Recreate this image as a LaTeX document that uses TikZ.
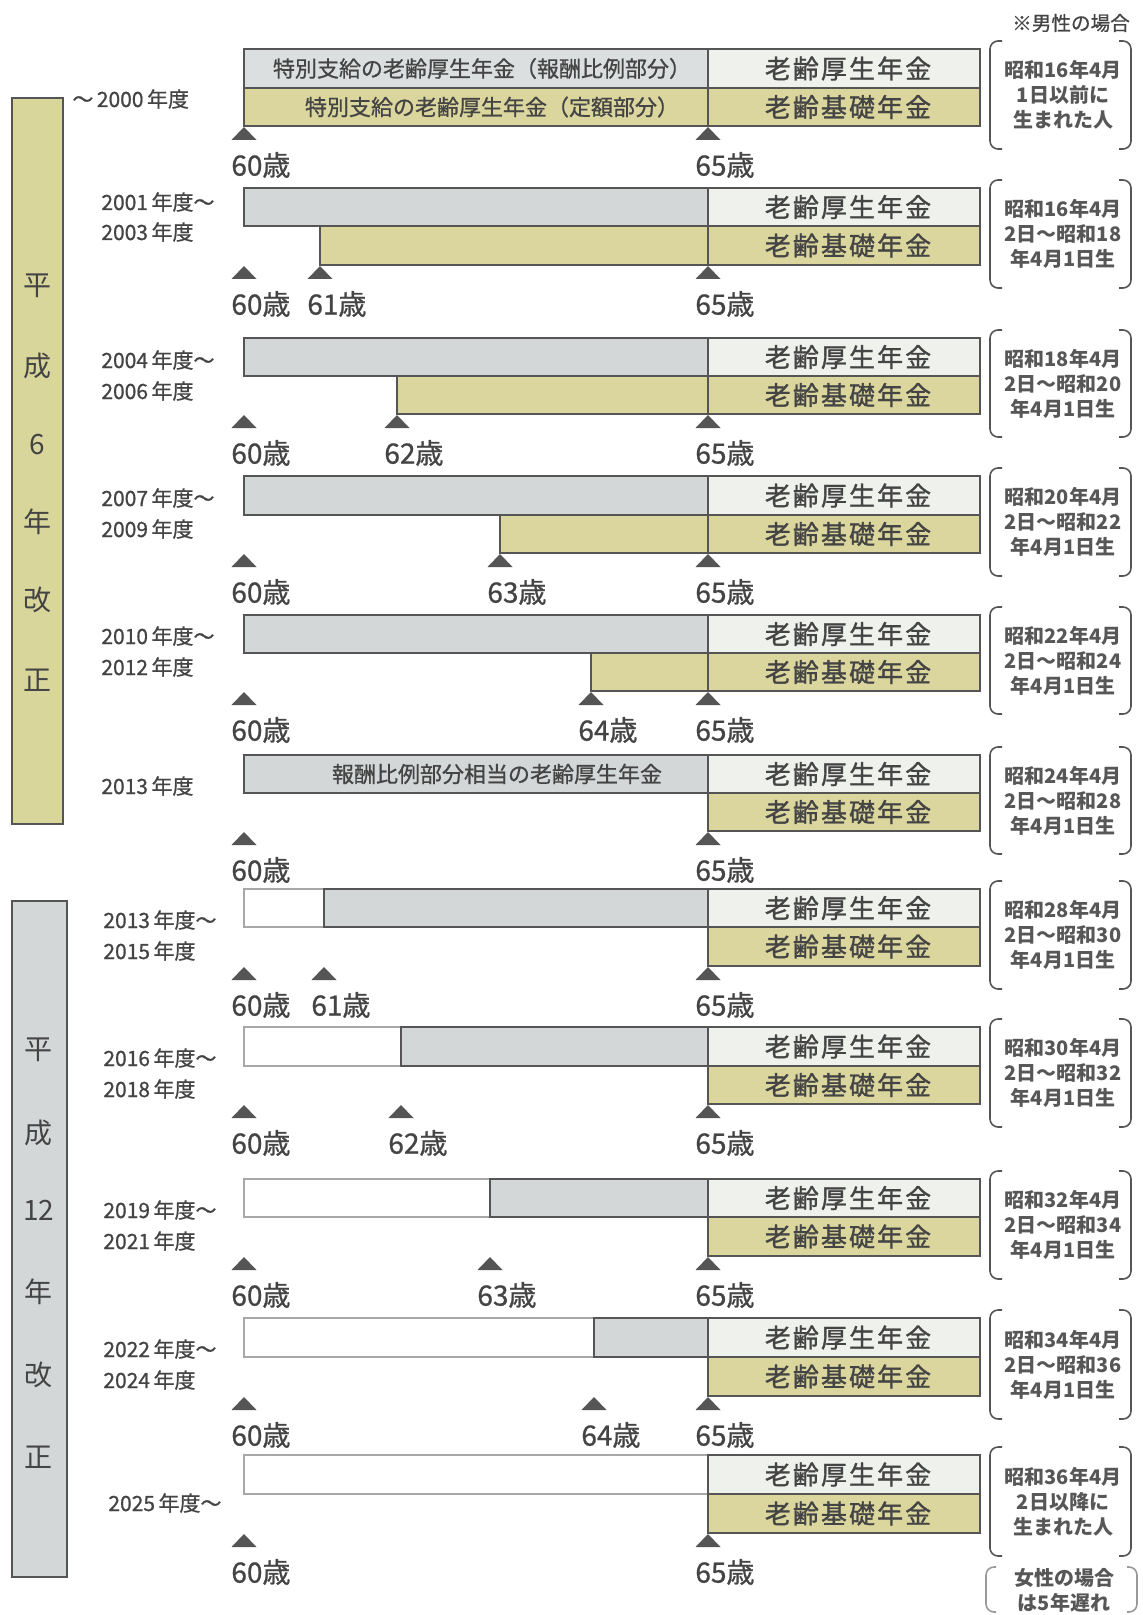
\documentclass[tikz,border=0pt]{standalone}
\usepackage{fontspec}
\setmainfont{Noto Sans CJK JP}
\newfontfamily\barfont[LetterSpace=8,FakeBold=1.2]{Noto Sans CJK JP}
\newfontfamily\medfont[FakeBold=0.8]{Noto Sans CJK JP}
\definecolor{gbar}{HTML}{D3D7D7}
\definecolor{gbarA}{HTML}{DCDFDF}
\definecolor{lbar}{HTML}{EEF1EC}
\definecolor{kbar}{HTML}{DAD69D}
\definecolor{bandsix}{HTML}{D9D69C}
\definecolor{bandtw}{HTML}{D4D7D7}
\definecolor{ln}{HTML}{555555}
\definecolor{tx}{HTML}{444444}
\definecolor{wline}{HTML}{A8A8A8}
\tikzset{
  barline/.style={draw=ln, line width=0.8pt},
  wbox/.style={draw=wline, line width=0.6pt, fill=white},
  agelbl/.style={anchor=west, inner sep=0pt, text=tx, font=\medfont\fontsize{14}{14}\selectfont},
  yearlbl/.style={anchor=west, inner sep=0pt, text=tx, font=\medfont\fontsize{10.5}{12}\selectfont},
  bartxt/.style={inner sep=0pt, text=tx, font=\barfont\fontsize{13}{13}\selectfont},
  smalltxt/.style={inner sep=0pt, text=tx, font=\medfont\fontsize{11}{11}\selectfont},
  brtxt/.style={align=center, inner sep=0pt, text=tx!90, font=\bfseries\fontsize{10}{12.5}\selectfont},
  bandtxt/.style={inner sep=0pt, text=tx, font=\fontsize{14}{14}\selectfont},
  tri/.style={fill=ln},
  brk/.style={draw=ln, line width=0.8pt, rounded corners=4pt},
}
\def\xA{244}
\def\xF{708}
\def\xR{980}
% right part: name, ytop, ymid, ybot, x start of khaki
\newcommand\pright[5]{%
  \filldraw[barline, fill=lbar] (\xF,#2) rectangle (\xR,#3);
  \filldraw[barline, fill=kbar] (#5,#3) rectangle (\xR,#4);
  \node[bartxt] (#1k) at ({(\xF+\xR)/2+4},{(#2+#3)/2}) {老齢厚生年金};
  \node[bartxt] (#1b) at ({(\xF+\xR)/2+4},{(#3+#4)/2}) {老齢基礎年金};
}
% triangle: x, ybot
\newcommand\ptri[2]{\fill[tri] (#1-12.5,#2+14) -- (#1,#2+1) -- (#1+12.5,#2+14) -- cycle;}
% age label: name, x, ybot, text
\newcommand\page[4]{\ptri{#2}{#3}\node[agelbl] (#1) at (#2-13,#3+39) {#4};}
% bracket: name, ytop, ybot, text
\newcommand\pbrk[4]{%
  \draw[brk] (1002,#2-8) -- (990,#2-8) -- (990,#3+23) -- (1002,#3+23);
  \draw[brk] (1119,#2-8) -- (1131,#2-8) -- (1131,#3+23) -- (1119,#3+23);
  \node[brtxt] (#1) at (1063,{(#2+#3)/2+7.5}) {#4};
}
\begin{document}
\begin{tikzpicture}[x=0.5pt,y=-0.5pt]
\useasboundingbox[fill=white] (0,0) rectangle (1143,1615);

\node[inner sep=0pt, text=tx, font=\medfont\fontsize{9.8}{10}\selectfont] (male) at (1071,23) {※男性の場合};

% ---- left bands
\filldraw[draw=ln, line width=0.8pt, fill=bandsix] (12,98) rectangle (63,824);
\node[bandtxt] (b6a) at (37,286) {平};
\node[bandtxt] (b6b) at (37,366) {成};
\node[bandtxt] (b6c) at (37,445) {6};
\node[bandtxt] (b6d) at (37,522) {年};
\node[bandtxt] (b6e) at (37,600) {改};
\node[bandtxt] (b6f) at (37,680) {正};
\filldraw[draw=ln, line width=0.8pt, fill=bandtw] (12,901) rectangle (67,1577);
\node[bandtxt] (b12a) at (39,1050) {平};
\node[bandtxt] (b12b) at (39,1133) {成};
\node[bandtxt] (b12c) at (39,1210) {12};
\node[bandtxt] (b12d) at (39,1292) {年};
\node[bandtxt] (b12e) at (39,1375) {改};
\node[bandtxt] (b12f) at (39,1457) {正};

% ---- row 1
\filldraw[barline, fill=gbarA] (\xA,49) rectangle (\xF,88);
\filldraw[barline, fill=lbar] (\xF,49) rectangle (\xR,88);
\filldraw[barline, fill=kbar] (\xA,88) rectangle (\xR,126);
\draw[barline] (\xF,88) -- (\xF,126);
\node[smalltxt] (r1s) at (482,68.5) {特別支給の老齢厚生年金（報酬比例部分）};
\node[smalltxt] (r1t) at (492,107) {特別支給の老齢厚生年金（定額部分）};
\node[bartxt] (r1k) at ({(\xF+\xR)/2+4},68.5) {老齢厚生年金};
\node[bartxt] (r1b) at ({(\xF+\xR)/2+4},107) {老齢基礎年金};
\node[yearlbl] (y1) at (72,99) {～\,2000\,年度};
\page{a1a}{\xA}{126}{60歳}
\page{a1b}{\xF}{126}{65歳}
\pbrk{k1}{49}{126}{昭和16年4月\\1日以前に\\生まれた人}

% ---- row 2
\filldraw[barline, fill=gbar] (\xA,188) rectangle (\xF,226);
\pright{r2}{188}{226}{265}{320}
\draw[barline] (\xF,226) -- (\xF,265);
\node[yearlbl] (y2a) at (101,202) {2001\,年度～};
\node[yearlbl] (y2b) at (101,232) {2003\,年度};
\page{a2a}{\xA}{265}{60歳}
\page{a2b}{320}{265}{61歳}
\page{a2c}{\xF}{265}{65歳}
\pbrk{k2}{188}{265}{昭和16年4月\\2日～昭和18\\年4月1日生}

% ---- row 3
\filldraw[barline, fill=gbar] (\xA,338) rectangle (\xF,376);
\pright{r3}{338}{376}{414}{397}
\draw[barline] (\xF,376) -- (\xF,414);
\node[yearlbl] (y3a) at (101,360) {2004\,年度～};
\node[yearlbl] (y3b) at (101,391) {2006\,年度};
\page{a3a}{\xA}{414}{60歳}
\page{a3b}{397}{414}{62歳}
\page{a3c}{\xF}{414}{65歳}
\pbrk{k3}{338}{414}{昭和18年4月\\2日～昭和20\\年4月1日生}

% ---- row 4
\filldraw[barline, fill=gbar] (\xA,476) rectangle (\xF,515);
\pright{r4}{476}{515}{553}{500}
\draw[barline] (\xF,515) -- (\xF,553);
\node[yearlbl] (y4a) at (101,498) {2007\,年度～};
\node[yearlbl] (y4b) at (101,529) {2009\,年度};
\page{a4a}{\xA}{553}{60歳}
\page{a4b}{500}{553}{63歳}
\page{a4c}{\xF}{553}{65歳}
\pbrk{k4}{476}{553}{昭和20年4月\\2日～昭和22\\年4月1日生}

% ---- row 5
\filldraw[barline, fill=gbar] (\xA,615) rectangle (\xF,653);
\pright{r5}{615}{653}{691}{591}
\draw[barline] (\xF,653) -- (\xF,691);
\node[yearlbl] (y5a) at (101,636) {2010\,年度～};
\node[yearlbl] (y5b) at (101,667) {2012\,年度};
\page{a5a}{\xA}{691}{60歳}
\page{a5b}{591}{691}{64歳}
\page{a5c}{\xF}{691}{65歳}
\pbrk{k5}{615}{691}{昭和22年4月\\2日～昭和24\\年4月1日生}

% ---- row 6
\filldraw[barline, fill=gbar] (\xA,755) rectangle (\xF,793);
\pright{r6}{755}{793}{831}{\xF}
\node[smalltxt] (r6s) at (497,774) {報酬比例部分相当の老齢厚生年金};
\node[yearlbl] (y6a) at (101,786) {2013\,年度};
\page{a6a}{\xA}{831}{60歳}
\page{a6c}{\xF}{831}{65歳}
\pbrk{k6}{755}{831}{昭和24年4月\\2日～昭和28\\年4月1日生}

% ---- row 7
\filldraw[wbox] (\xA,889) rectangle (324,927);
\filldraw[barline, fill=gbar] (324,889) rectangle (\xF,927);
\pright{r7}{889}{927}{966}{\xF}
\node[yearlbl] (y7a) at (103,920) {2013\,年度～};
\node[yearlbl] (y7b) at (103,951) {2015\,年度};
\page{a7a}{\xA}{966}{60歳}
\page{a7b}{324}{966}{61歳}
\page{a7c}{\xF}{966}{65歳}
\pbrk{k7}{889}{966}{昭和28年4月\\2日～昭和30\\年4月1日生}

% ---- row 8
\filldraw[wbox] (\xA,1027) rectangle (401,1066);
\filldraw[barline, fill=gbar] (401,1027) rectangle (\xF,1066);
\pright{r8}{1027}{1066}{1104}{\xF}
\node[yearlbl] (y8a) at (103,1058) {2016\,年度～};
\node[yearlbl] (y8b) at (103,1089) {2018\,年度};
\page{a8a}{\xA}{1104}{60歳}
\page{a8b}{401}{1104}{62歳}
\page{a8c}{\xF}{1104}{65歳}
\pbrk{k8}{1027}{1104}{昭和30年4月\\2日～昭和32\\年4月1日生}

% ---- row 9
\filldraw[wbox] (\xA,1179) rectangle (490,1217);
\filldraw[barline, fill=gbar] (490,1179) rectangle (\xF,1217);
\pright{r9}{1179}{1217}{1256}{\xF}
\node[yearlbl] (y9a) at (103,1210) {2019\,年度～};
\node[yearlbl] (y9b) at (103,1241) {2021\,年度};
\page{a9a}{\xA}{1256}{60歳}
\page{a9b}{490}{1256}{63歳}
\page{a9c}{\xF}{1256}{65歳}
\pbrk{k9}{1179}{1256}{昭和32年4月\\2日～昭和34\\年4月1日生}

% ---- row 10
\filldraw[wbox] (\xA,1318) rectangle (594,1357);
\filldraw[barline, fill=gbar] (594,1318) rectangle (\xF,1357);
\pright{r10}{1318}{1357}{1396}{\xF}
\node[yearlbl] (y10a) at (103,1349) {2022\,年度～};
\node[yearlbl] (y10b) at (103,1380) {2024\,年度};
\page{a10a}{\xA}{1396}{60歳}
\page{a10b}{594}{1396}{64歳}
\page{a10c}{\xF}{1396}{65歳}
\pbrk{k10}{1318}{1396}{昭和34年4月\\2日～昭和36\\年4月1日生}

% ---- row 11
\filldraw[wbox] (\xA,1455) rectangle (\xF,1494);
\pright{r11}{1455}{1494}{1533}{\xF}
\node[yearlbl] (y11a) at (108,1503) {2025\,年度～};
\page{a11a}{\xA}{1533}{60歳}
\page{a11c}{\xF}{1533}{65歳}
\pbrk{k11}{1455}{1533}{昭和36年4月\\2日以降に\\生まれた人}

% ---- footnote bracket
\draw[brk, draw=ln!60] (996,1567) -- (986,1567) -- (986,1612) -- (996,1612);
\draw[brk, draw=ln!60] (1127,1567) -- (1137,1567) -- (1137,1612) -- (1127,1612);
\node[brtxt] (fem) at (1064,1590) {女性の場合\\は5年遅れ};
\end{tikzpicture}
\end{document}
